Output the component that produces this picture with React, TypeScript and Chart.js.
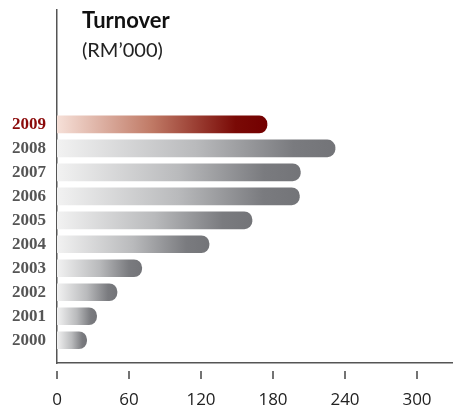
import React, { useEffect, useRef } from "react";
import { Chart, registerables } from "chart.js";

Chart.register(...registerables);

const years = [2000, 2001, 2002, 2003, 2004, 2005, 2006, 2007, 2008, 2009];
const turnover = [24.7, 33, 50, 70.6, 126.7, 162.5, 202, 202.8, 231.7, 175];
const xTicks = [0, 60, 120, 180, 240, 300];
const highlightYear = 2009;
const titleText = "Turnover";
const subtitleText = "(RM\u2019000)";

const xTickMarks = {
  id: "xTickMarks",
  afterDraw(chart: any) {
    const { ctx, scales, chartArea } = chart;
    const xs = scales.x;
    ctx.save();
    ctx.strokeStyle = "#444";
    ctx.lineWidth = 1.5;
    for (const v of xTicks) {
      const px = Math.round(xs.getPixelForValue(v));
      ctx.beginPath();
      ctx.moveTo(px, chartArea.bottom + 8);
      ctx.lineTo(px, chartArea.bottom + 16);
      ctx.stroke();
    }
    ctx.fillStyle = "#111";
    ctx.textBaseline = "alphabetic";
    ctx.textAlign = "left";
    ctx.font = "bold 22px Lato, sans-serif";
    ctx.fillText(titleText, 82, 28);
    ctx.fillStyle = "#222";
    ctx.font = "20px Lato, sans-serif";
    ctx.fillText(subtitleText, 82, 57);
    ctx.restore();
  },
};

export default function App() {
  const ref = useRef<HTMLCanvasElement>(null);
  useEffect(() => {
    const canvas = ref.current!;
    const bg = (c: any) => {
      const chart = c.chart;
      const xs = chart.scales.x;
      const isHi = years[c.dataIndex] === highlightYear;
      if (!xs || !chart.chartArea) return isHi ? "#7a0000" : "#77787c";
      const x0 = xs.getPixelForValue(0);
      const x1 = xs.getPixelForValue(turnover[c.dataIndex]);
      const g = chart.ctx.createLinearGradient(x0, 0, Math.max(x1, x0 + 1), 0);
      if (isHi) {
        g.addColorStop(0, "#f6e0d8");
        g.addColorStop(0.45, "#c07a66");
        g.addColorStop(0.85, "#7a0a06");
        g.addColorStop(1, "#730000");
      } else {
        g.addColorStop(0, "#f2f2f2");
        g.addColorStop(0.5, "#b9babc");
        g.addColorStop(0.85, "#7a7b7f");
        g.addColorStop(1, "#737478");
      }
      return g;
    };
    const chart = new Chart(canvas, {
      type: "bar",
      data: {
        datasets: [
          {
            data: years.map((y, i) => ({ x: turnover[i], y })),
            backgroundColor: bg,
            borderWidth: 0,
            borderRadius: 8,
            borderSkipped: "start",
            barThickness: 17,
          },
        ],
      },
      plugins: [xTickMarks],
      options: {
        indexAxis: "y",
        animation: false,
        responsive: false,
        maintainAspectRatio: false,
        layout: { padding: { top: 10, right: 0, left: 0, bottom: 0 } },
        plugins: { legend: { display: false }, tooltip: { enabled: false }, title: { display: false } },
        scales: {
          x: {
            type: "linear",
            min: 0,
            max: 330,
            afterBuildTicks: (s: any) => {
              s.ticks = xTicks.map((v) => ({ value: v }));
            },
            afterFit: (s: any) => {
              s.height = 47;
              s.paddingLeft = 0;
              s.paddingRight = 0;
            },
            grid: { display: false, drawTicks: false },
            border: { display: true, color: "#555", width: 1.5 },
            ticks: {
              padding: 27,
              color: "#222",
              font: { family: "'Open Sans', sans-serif", size: 17 },
              maxRotation: 0,
            },
          },
          y: {
            type: "linear",
            offset: false,
            min: 1999.05,
            max: 2013.77,
            afterBuildTicks: (s: any) => {
              s.ticks = years.map((v) => ({ value: v }));
            },
            afterFit: (s: any) => {
              s.width = 57;
              s.paddingTop = 0;
              s.paddingBottom = 0;
            },
            grid: { display: false, drawTicks: false, offset: false },
            border: { display: true, color: "#555", width: 1.5 },
            ticks: {
              padding: 11,
              color: (c: any) => (c.tick && c.tick.value === highlightYear ? "#8b0a0a" : "#555"),
              font: { family: "'Liberation Serif', 'Times New Roman', serif", size: 17, weight: "bold" },
              callback: (v: any) => String(v),
            },
          },
        },
      },
    } as any);
    return () => chart.destroy();
  }, []);
  return (
    <div style={{ position: "fixed", left: 0, top: 0, width: 453, height: 410, background: "#fff" }}>
      <canvas ref={ref} width={453} height={410} style={{ width: 453, height: 410, display: "block" }} />
    </div>
  );
}
